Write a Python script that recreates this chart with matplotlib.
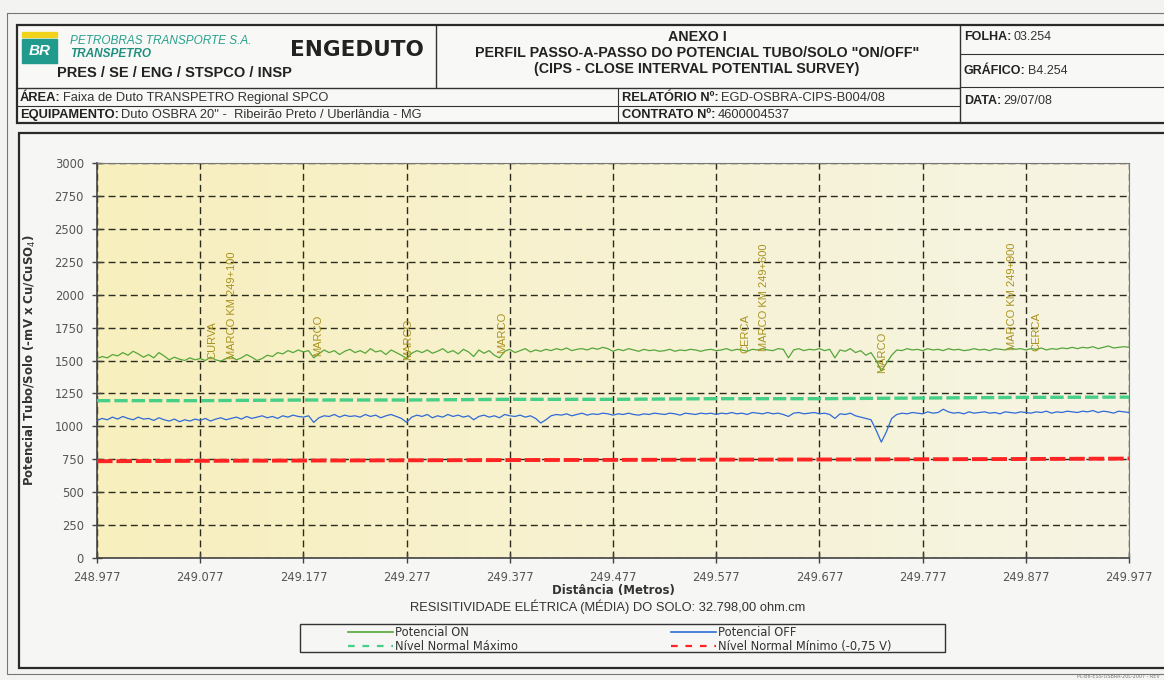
import numpy as np
import matplotlib
matplotlib.use('Agg')
import matplotlib.pyplot as plt
from matplotlib.patches import Rectangle
from matplotlib.lines import Line2D
from matplotlib.colors import LinearSegmentedColormap

# Dados (km 248.977 a 249.977, passo de 5 m)
km_ini = 248.977
passo = 0.005

pot_on = [
    1515, 1530, 1520, 1545, 1535, 1560, 1540, 1570, 1550, 1525,
    1545, 1520, 1560, 1535, 1505, 1525, 1510, 1500, 1520, 1505,
    1515, 1500, 1525, 1505, 1495, 1515, 1530, 1505, 1520, 1545,
    1525, 1500, 1515, 1540, 1530, 1560, 1550, 1575, 1560, 1580,
    1565, 1575, 1520, 1550, 1580, 1560, 1575, 1545, 1570, 1585,
    1560, 1575, 1555, 1590, 1565, 1575, 1545, 1580, 1560, 1540,
    1515, 1555, 1575, 1560, 1580, 1555, 1570, 1590, 1560, 1575,
    1550, 1585, 1565, 1530, 1580, 1555, 1575, 1540, 1520, 1570,
    1585, 1560, 1575, 1590, 1565, 1580, 1570, 1585, 1575, 1590,
    1580, 1595, 1575, 1585, 1590, 1580, 1595, 1585, 1600, 1590,
    1570, 1585, 1575, 1590, 1580, 1570, 1585, 1575, 1580, 1570,
    1575, 1585, 1570, 1580, 1575, 1585, 1580, 1570, 1580, 1585,
    1575, 1580, 1590, 1575, 1585, 1580, 1570, 1585, 1580, 1590,
    1580, 1575, 1590, 1585, 1520, 1580, 1590, 1575, 1585, 1580,
    1590, 1575, 1585, 1520, 1580, 1570, 1590, 1560, 1575, 1540,
    1560, 1500, 1420, 1480, 1540, 1580, 1575, 1590, 1580, 1585,
    1575, 1590, 1580, 1585, 1575, 1590, 1580, 1585, 1575, 1580,
    1590, 1580, 1585, 1575, 1590, 1585, 1580, 1595, 1585, 1590,
    1580, 1590, 1585, 1595, 1580, 1590, 1585, 1595, 1590, 1600,
    1590, 1600, 1595, 1605, 1590, 1600, 1610, 1595, 1600, 1605,
    1600,
]

pot_off = [
    1045, 1060, 1050, 1070, 1055, 1075, 1060, 1050, 1070, 1055,
    1060, 1045, 1065, 1050, 1040, 1055, 1035, 1050, 1040, 1055,
    1045, 1060, 1040, 1055, 1065, 1050, 1060, 1070, 1055, 1075,
    1060, 1070, 1080, 1065, 1075, 1060, 1080, 1070, 1085, 1075,
    1070, 1080, 1030, 1065, 1080, 1075, 1090, 1070, 1085, 1075,
    1080, 1070, 1090, 1075, 1085, 1065, 1080, 1090, 1075, 1060,
    1030, 1070, 1085, 1075, 1090, 1065, 1080, 1070, 1090, 1075,
    1085, 1070, 1080, 1050, 1075, 1085, 1070, 1080, 1065, 1090,
    1080, 1075, 1085, 1070, 1080, 1060, 1025, 1050, 1080, 1090,
    1085, 1095, 1080, 1090, 1100, 1085, 1095, 1090, 1100, 1095,
    1085, 1095, 1090, 1100, 1090, 1085, 1095, 1090, 1100, 1095,
    1090, 1100, 1095, 1085, 1100, 1095, 1090, 1100, 1095, 1100,
    1090, 1100, 1095, 1105, 1095, 1100, 1090, 1105, 1100, 1095,
    1105, 1095, 1100, 1090, 1075, 1100, 1105, 1095, 1100, 1105,
    1095, 1100, 1090, 1060, 1095, 1090, 1100, 1080, 1070, 1060,
    1050, 970, 880, 960, 1060, 1090, 1100, 1095, 1105, 1100,
    1095, 1110, 1100, 1105, 1130, 1110, 1100, 1105, 1095, 1110,
    1100, 1105, 1110, 1100, 1105, 1095, 1110, 1105, 1100, 1110,
    1105, 1100, 1110, 1105, 1115, 1100, 1110, 1105, 1115, 1110,
    1105, 1115, 1110, 1120, 1105, 1115, 1110, 1100, 1115, 1110,
    1105,
]

# niveis (pontos a cada 100 m)
km_niv = [248.977, 249.077, 249.177, 249.277, 249.377, 249.477,
          249.577, 249.677, 249.777, 249.877, 249.977]
niv_max = [1195, 1195, 1200, 1200, 1205, 1205, 1210, 1210, 1215, 1220, 1222]
niv_min = [735, 738, 740, 742, 744, 745, 747, 748, 750, 752, 755]

# eventos de campo
ev_nome = ['CURVA', 'MARCO KM 249+100', 'MARCO', 'MARCO', 'MARCO',
           'CERCA', 'MARCO KM 249+600', 'MARCO', 'MARCO KM 249+900', 'CERCA']
ev_km = [249.089, 249.108, 249.191, 249.278, 249.370,
         249.605, 249.623, 249.738, 249.864, 249.887]

x_ticks = [248.977, 249.077, 249.177, 249.277, 249.377, 249.477,
           249.577, 249.677, 249.777, 249.877, 249.977]

dist = km_ini + passo * np.arange(len(pot_on))

cor_on = '#55a63a'
cor_off = '#2f6ad6'
cor_max = '#46cf86'
cor_min = '#ff2424'

W, H = 1164, 680
fig = plt.figure(figsize=(W / 100, H / 100), dpi=100)
fig.patch.set_facecolor('#f3f3f1')

# camada de moldura em pixels
ov = fig.add_axes([0, 0, 1, 1], zorder=0)
ov.set_xlim(0, W)
ov.set_ylim(H, 0)
ov.axis('off')

def caixa(x0, y0, x1, y1, lw=1.2, fc='none', ec='#333333'):
    ov.add_patch(Rectangle((x0, y0), x1 - x0, y1 - y0, fill=fc != 'none',
                           facecolor=fc, edgecolor=ec, lw=lw))

def linha(xs, ys, lw=1.0, c='#333333'):
    ov.plot(xs, ys, color=c, lw=lw, solid_capstyle='butt')

# moldura externa
caixa(7, 13, 1170, 674, lw=0.8, ec='#777777')
# cabecalho
caixa(17, 25, 1170, 123, lw=1.6, fc='#f8f8f6', ec='#2a2a2a')
linha([436, 436], [25, 88])
linha([960, 960], [25, 123])
linha([17, 960], [88, 88])
linha([17, 960], [106, 106], lw=0.8)
linha([618, 618], [88, 123], lw=0.8)
linha([960, 1170], [54, 54], lw=0.8)
linha([960, 1170], [87, 87], lw=0.8)
# painel do grafico
caixa(19, 133, 1166, 668, lw=1.6, fc='#f6f6f4', ec='#2a2a2a')

fam = 'Liberation Sans'

# logotipo
ov.add_patch(Rectangle((22, 32), 35, 5, color='#f2d31b'))
ov.add_patch(Rectangle((22, 39), 35, 24, color='#1f9a8c'))
ov.text(39.5, 51, 'BR', color='white', fontsize=11, fontweight='bold',
        style='italic', ha='center', va='center', family=fam)
ov.text(70, 41, 'PETROBRAS TRANSPORTE S.A.', color='#27a08e', fontsize=8.5,
        style='italic', va='center', family=fam)
ov.text(70, 54, 'TRANSPETRO', color='#1f8f7f', fontsize=8.5,
        style='italic', fontweight='bold', va='center', family=fam)
ov.text(57, 73, 'PRES / SE / ENG / STSPCO / INSP', color='#222222',
        fontsize=10.5, fontweight='bold', va='center', family=fam)
ov.text(357, 50, 'ENGEDUTO', color='#222222', fontsize=15.5,
        fontweight='heavy', ha='center', va='center', family='DejaVu Sans')

for yy, txt in [(37, 'ANEXO I'),
                (53, 'PERFIL PASSO-A-PASSO DO POTENCIAL TUBO/SOLO "ON/OFF"'),
                (69, '(CIPS - CLOSE INTERVAL POTENTIAL SURVEY)')]:
    ov.text(697, yy, txt, fontsize=10.3, fontweight='bold', ha='center',
            va='center', family=fam, color='#222222')

rend = fig.canvas.get_renderer()

def rotulo(x, y, lab, val, fs=8.5):
    t = ov.text(x, y, lab, fontsize=fs, fontweight='bold', va='center',
                family=fam, color='#222222')
    bb = t.get_window_extent(rend)
    xe = ov.transData.inverted().transform((bb.x1, bb.y0))[0]
    ov.text(xe + 2, y, val, fontsize=fs, va='center', family=fam,
            color='#333333')

rotulo(964, 37, 'FOLHA:', '03.254', 9)
rotulo(964, 71, 'GRÁFICO:', 'B4.254', 9)
rotulo(964, 101, 'DATA:', '29/07/08', 9)
rotulo(20, 98, 'ÁREA:', 'Faixa de Duto TRANSPETRO Regional SPCO', 9.3)
rotulo(20, 115, 'EQUIPAMENTO:', 'Duto OSBRA 20" -  Ribeirão Preto / Uberlândia - MG', 9.3)
rotulo(622, 98, 'RELATÓRIO Nº:', 'EGD-OSBRA-CIPS-B004/08', 9.3)
rotulo(622, 115, 'CONTRATO Nº:', '4600004537', 9.3)

# grafico
ax = fig.add_axes([97 / W, 1 - 558 / H, 1032 / W, 395 / H], zorder=2)
fundo = LinearSegmentedColormap.from_list('fundo', ['#f8efbd', '#f7f2d2', '#f6f4e4'])
ax.imshow(np.linspace(0, 1, 256).reshape(1, -1), cmap=fundo, aspect='auto',
          extent=[x_ticks[0], x_ticks[-1], 0, 3000], zorder=0)

ax.plot(dist, pot_on, color=cor_on, lw=0.9, zorder=3)
ax.plot(km_niv, niv_max, color=cor_max, lw=2.4, dashes=(4, 1.2), zorder=3)
ax.plot(dist, pot_off, color=cor_off, lw=0.9, zorder=3)
ax.plot(km_niv, niv_min, color=cor_min, lw=2.8, dashes=(4, 1), zorder=3)

for nome, k in zip(ev_nome, ev_km):
    i = int(round((k - km_ini) / passo))
    ax.text(k, pot_on[i] - 15, nome, rotation=90, ha='center', va='bottom',
            fontsize=8, color='#a8921e', family=fam, zorder=4)

ax.set_xlim(x_ticks[0], x_ticks[-1])
ax.set_ylim(0, 3000)
ax.set_xticks(x_ticks)
ax.set_xticklabels(['%.3f' % v for v in x_ticks])
ax.set_yticks(np.arange(0, 3001, 250))
ax.grid(True, color='#2b2b1e', ls=(0, (5, 3)), lw=1.0, zorder=1)
ax.tick_params(direction='inout', length=7, width=1, color='#444444',
               labelsize=8.3, labelcolor='#555555', pad=6)
for s in ['left', 'bottom']:
    ax.spines[s].set_color('#444444')
    ax.spines[s].set_linewidth(1.2)
for s in ['top', 'right']:
    ax.spines[s].set_color('#777777')
    ax.spines[s].set_linewidth(0.8)

ax.set_ylabel('Potencial Tubo/Solo (-mV x Cu/CuSO$_4$)', fontsize=8.5,
              fontweight='bold', color='#333333', labelpad=12)
ax.set_xlabel('Distância (Metros)', fontsize=8.5, fontweight='bold',
              color='#333333', labelpad=0)

ov.text(608, 607, 'RESISITIVIDADE ELÉTRICA (MÉDIA) DO SOLO: 32.798,00 ohm.cm',
        fontsize=9.3, ha='center', va='center', family=fam, color='#333333')

# legenda (duas colunas separadas, como no original)
caixa(300, 624, 945, 652, lw=1.0, fc='#f6f6f4', ec='#333333')
h_on = Line2D([], [], color=cor_on, lw=1.2)
h_max = Line2D([], [], color=cor_max, lw=1.6, dashes=(3, 3.5))
h_off = Line2D([], [], color=cor_off, lw=1.2)
h_min = Line2D([], [], color=cor_min, lw=1.6, dashes=(3, 3.5))
kw = dict(loc='upper left', bbox_transform=fig.transFigure, frameon=False,
          fontsize=8.3, handlelength=3.9, handletextpad=0.15,
          labelspacing=0.1, borderpad=0, borderaxespad=0)
leg1 = ax.legend([h_on, h_max], ['Potencial ON', 'Nível Normal Máximo'],
                 bbox_to_anchor=(348 / W, 1 - 626 / H), **kw)
ax.add_artist(leg1)
leg2 = ax.legend([h_off, h_min], ['Potencial OFF', 'Nível Normal Mínimo (-0,75 V)'],
                 bbox_to_anchor=(671 / W, 1 - 626 / H), **kw)
for lg in (leg1, leg2):
    for t in lg.get_texts():
        t.set_color('#333333')

ov.text(1160, 677, 'PL-B6-ESS-OSBRA-20L-2007 - REV', fontsize=3.5,
        ha='right', va='center', color='#777777')

fig.savefig('out.png', dpi=100, facecolor=fig.get_facecolor())
